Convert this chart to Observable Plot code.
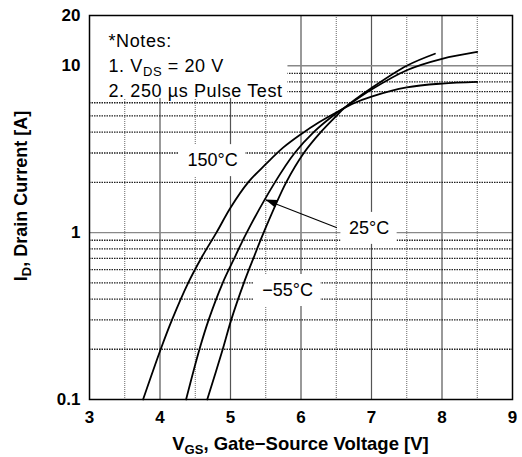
<!DOCTYPE html>
<html><head><meta charset="utf-8">
<script src="https://cdn.jsdelivr.net/npm/d3@7"></script>
<script src="https://cdn.jsdelivr.net/npm/@observablehq/plot@0.6"></script>
<style>
body{margin:0;background:#fff}
svg{display:block}
</style>
</head><body><div id="chart"></div>
<script>
// Transfer characteristics: V_GS [V] vs I_D [A]
const vgs150 = [3.76, 4.01, 4.17, 4.40, 4.59, 4.80, 5.00, 5.25, 5.50, 5.75, 6.00, 6.25, 6.50, 6.75, 7.00, 7.50, 8.00, 8.50];
const id150  = [0.1, 0.2, 0.3, 0.5, 0.71, 1, 1.41, 2.0, 2.57, 3.24, 3.89, 4.57, 5.25, 5.96, 6.53, 7.41, 7.82, 8.0];
const vgs25  = [4.37, 4.56, 4.69, 4.89, 5.06, 5.23, 5.63, 5.91, 6.18, 6.45, 6.63, 7.00, 7.50, 8.00, 8.50];
const id25   = [0.1, 0.2, 0.3, 0.5, 0.71, 1, 2, 3, 4, 5, 5.65, 7.2, 9.4, 11.0, 12.1];
const vgsM55 = [4.67, 4.89, 5.01, 5.19, 5.33, 5.47, 5.79, 6.04, 6.28, 6.50, 6.63, 7.00, 7.50, 7.90];
const idM55  = [0.1, 0.2, 0.3, 0.5, 0.71, 1, 2, 3, 4, 5, 5.65, 7.35, 10.0, 11.8];

const seriesNames = ["150°C", "25°C", "−55°C"];
const labelX = [4.745, 6.965, 5.81];
const labelY = [2.70, 1.06, 0.45];
const arrowFrom = [6.51, 1.07];
const arrowTo = [5.50, 1.57];

const xTicks = [3, 4, 5, 6, 7, 8, 9];
const yTicks = [0.1, 1, 10, 20];
const gridXMajor = [4, 5, 6, 7, 8];
const gridXMinor = [3.5, 4.5, 5.5, 6.5, 7.5, 8.5];
const gridYMajor = [1, 10];
const gridYMinor = [0.2, 0.3, 0.4, 0.5, 0.6, 0.7, 0.8, 0.9, 2, 3, 4, 5, 6, 7, 8, 9];
const notesLines = ["*Notes:", "1. VDS = 20 V", "2. 250 µs Pulse Test"];

const rows = [];
[[vgs150, id150, seriesNames[0]], [vgs25, id25, seriesNames[1]], [vgsM55, idM55, seriesNames[2]]]
  .forEach(([xs, ys, s]) => xs.forEach((v, i) => rows.push({vgs: v, id: ys[i], series: s})));
const labels = seriesNames.map((t, i) => ({t, x: labelX[i], y: labelY[i]}));

const font = "'Liberation Sans', Arial, Helvetica, sans-serif";
const W = 522, H = 457, ML = 89, MR = 10, MT = 15, MB = 58;
const NOTE_FS = 18, NOTE_LH = 1.39, NOTE_DX = 19, NOTE_DY = 14, NOTE_LS = 0.6;
const LABEL_FS = 18;
const xDomain = [3, 9], yDomain = [0.1, 20];

// standalone scales (same as the plot's) used to size the white label boxes
const xsc = Plot.scale({x: {domain: xDomain, range: [ML, W - MR]}});
const ysc = Plot.scale({y: {type: "log", domain: yDomain, range: [H - MB, MT]}});

const ctx = (() => { try { return document.createElement("canvas").getContext("2d"); } catch (e) { return null; } })();
function textWidth(t, fs, weight, ls) {
  let w = 0;
  if (ctx) { try { ctx.font = `${weight || "normal"} ${fs}px 'Liberation Sans', Arial, sans-serif`; w = ctx.measureText(t).width; } catch (e) { w = 0; } }
  if (!w) w = t.length * fs * 0.55;
  return w + (ls || 0) * t.length;
}

const labelBoxes = labels.map(d => {
  const cx = xsc.apply(d.x), cy = ysc.apply(d.y);
  const w = textWidth(d.t, LABEL_FS, "normal", 0);
  return {x1: xsc.invert(cx - w / 2 - 8), x2: xsc.invert(cx + w / 2 + 8),
          y1: ysc.invert(cy + LABEL_FS / 2 + 7), y2: ysc.invert(cy - LABEL_FS / 2 - 7)};
});
const notesBox = (() => {
  const maxW = Math.max(...notesLines.map(l => textWidth(l, NOTE_FS, "normal", NOTE_LS)));
  const lastBaseline = MT + NOTE_DY + 0.71 * NOTE_FS + (notesLines.length - 1) * NOTE_LH * NOTE_FS;
  return {x1: xDomain[0], x2: xsc.invert(ML + NOTE_DX + maxW + 5),
          y1: ysc.invert(lastBaseline + 0.35 * NOTE_FS), y2: yDomain[1]};
})();

const plot = Plot.plot({
  width: W, height: H,
  marginLeft: ML, marginRight: MR, marginTop: MT, marginBottom: MB,
  style: {fontFamily: font, background: "white", color: "black"},
  x: {domain: xDomain},
  y: {type: "log", domain: yDomain},
  marks: [
    Plot.ruleX(gridXMinor, {stroke: "#666", strokeWidth: 1, strokeDasharray: "1,1"}),
    Plot.ruleX(gridXMajor, {stroke: "#555", strokeWidth: 1.2}),
    Plot.ruleY(gridYMinor, {stroke: "#222", strokeWidth: 1.3, strokeDasharray: "1.5,1"}),
    Plot.ruleY(gridYMajor, {stroke: "#888", strokeWidth: 1.3}),
    Plot.line(rows, {x: "vgs", y: "id", z: "series", curve: "catmull-rom", stroke: "black", strokeWidth: 1.8}),
    Plot.rect([notesBox, ...labelBoxes], {x1: "x1", x2: "x2", y1: "y1", y2: "y2", fill: "white"}),
    Plot.link([0], {x1: () => arrowFrom[0], y1: () => arrowFrom[1], x2: () => arrowTo[0], y2: () => arrowTo[1], stroke: "black", strokeWidth: 1.1}),
    Plot.text([notesLines.join("\n")], {frameAnchor: "top-left", text: d => d, textAnchor: "start", lineAnchor: "top", lineHeight: NOTE_LH, dx: NOTE_DX, dy: NOTE_DY, fontSize: NOTE_FS, fill: "black"}),
    Plot.text(labels, {x: "x", y: "y", text: "t", fontSize: LABEL_FS, fill: "black", textAnchor: "middle"}),
    Plot.frame({stroke: "black", strokeWidth: 1.5}),
    Plot.axisX({ticks: xTicks, tickSize: 0, tickPadding: 11, fontSize: 17, fontWeight: "bold", label: null, tickFormat: d => String(d)}),
    Plot.axisY({ticks: yTicks, tickSize: 0, tickPadding: 9, fontSize: 17, fontWeight: "bold", label: null, tickFormat: d => String(d)})
  ]
});
document.getElementById("chart").appendChild(plot);

const svg = d3.select(plot);
const sx = plot.scale("x"), sy = plot.scale("y");

// notes: subscript + letter spacing
const textGroups = plot.querySelectorAll('g[aria-label="text"]');
const notesG = textGroups[0];
d3.select(notesG).selectAll("text").attr("letter-spacing", NOTE_LS);
const tsp = notesG.querySelectorAll("text tspan");
if (tsp.length >= 2) {
  const t = d3.select(tsp[1]);
  t.text("1. V");
  t.append("tspan").attr("dy", 4).attr("font-size", 13).text("DS");
  t.append("tspan").attr("dy", -4).text(" = 20 V");
}

// filled arrow head
{
  const x1 = sx.apply(arrowFrom[0]), y1 = sy.apply(arrowFrom[1]);
  const x2 = sx.apply(arrowTo[0]), y2 = sy.apply(arrowTo[1]);
  const dx = x2 - x1, dy = y2 - y1, L = Math.hypot(dx, dy);
  const ux = dx / L, uy = dy / L, len = 12, hw = 4;
  const bx = x2 - ux * len, by = y2 - uy * len;
  svg.append("path")
    .attr("d", `M${x2},${y2}L${bx - uy * hw},${by + ux * hw}L${bx + uy * hw},${by - ux * hw}Z`)
    .attr("fill", "black");
}

// axis titles with subscripts
const xl = svg.append("text").attr("x", (ML + W - MR) / 2).attr("y", 450)
  .attr("text-anchor", "middle").attr("font-weight", "bold").attr("font-size", 18.5).attr("font-family", font).attr("fill", "black");
xl.append("tspan").text("V");
xl.append("tspan").attr("dy", 4).attr("font-size", 13).text("GS");
xl.append("tspan").attr("dy", -4).text(", Gate−Source Voltage [V]");

const yl = svg.append("text").attr("transform", `translate(27,196) rotate(-90)`)
  .attr("text-anchor", "middle").attr("font-weight", "bold").attr("font-size", 18).attr("font-family", font).attr("fill", "black");
yl.append("tspan").text("I");
yl.append("tspan").attr("dy", 4).attr("font-size", 13).text("D");
yl.append("tspan").attr("dy", -4).text(", Drain Current [A]");
</script>
</body></html>
